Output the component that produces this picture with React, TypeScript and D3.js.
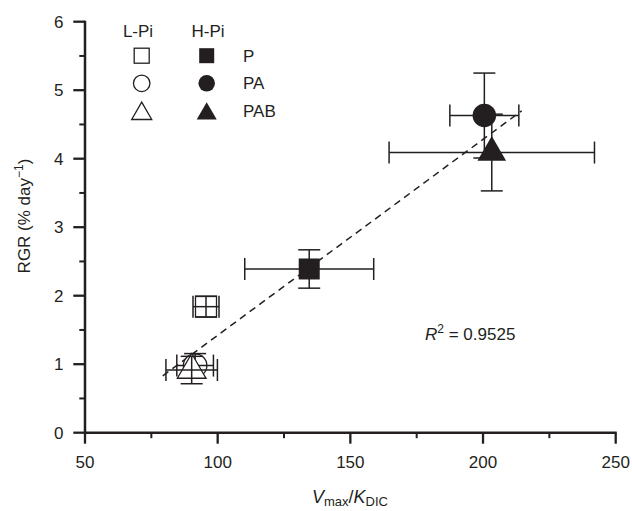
import React from "react";
import * as d3 from "d3";

const xDomain = [50, 250];
const yDomain = [0, 6];
const xTicks = [50, 100, 150, 200, 250];
const xMinorTicks = [75, 125, 175, 225];
const yTicks = [0, 1, 2, 3, 4, 5, 6];
const yMinorTicks = [0.5, 1.5, 2.5, 3.5, 4.5, 5.5];

const seriesNames = ["L-Pi P", "L-Pi PA", "L-Pi PAB", "H-Pi P", "H-Pi PA", "H-Pi PAB"];
const xVals = [95.6, 91.5, 90.2, 134.5, 200.5, 203.3];
const yVals = [1.84, 0.98, 0.915, 2.39, 4.63, 4.09];
const xErr = [4.9, 6.9, 9.7, 24.3, 13, 38.7];
const yErr = [0.15, 0.175, 0.2, 0.28, 0.62, 0.56];
const shapes = ["square", "circle", "triangle", "square", "circle", "triangle"];
const filled = [false, false, false, true, true, true];

const fitX = [79.3, 214.6];
const fitY = [0.83, 4.7];

const legendHeaders = ["L-Pi", "H-Pi"];
const legendLabels = ["P", "PA", "PAB"];
const legendShapes = ["square", "circle", "triangle"];

const INK = "#231f20";
const FONT = "'Liberation Sans', Arial, sans-serif";

function Marker({ shape, cx, cy, size, fill }: any) {
  const stroke = INK;
  const sw = fill ? 0 : 1.3;
  const f = fill ? INK : "white";
  if (shape === "square") {
    return <rect x={cx - size / 2} y={cy - size / 2} width={size} height={size} fill={f} stroke={stroke} strokeWidth={sw} />;
  }
  if (shape === "circle") {
    return <circle cx={cx} cy={cy} r={size / 2 + 0.5} fill={f} stroke={stroke} strokeWidth={sw} />;
  }
  const w = size * 1.32;
  const h = size * 1.14;
  const top = cy - (2 * h) / 3;
  const bot = cy + h / 3;
  const pts = `${cx},${top} ${cx - w / 2},${bot} ${cx + w / 2},${bot}`;
  return <polygon points={pts} fill={f} stroke={stroke} strokeWidth={sw} strokeLinejoin="miter" />;
}

export default function App() {
  const x = d3.scaleLinear().domain(xDomain).range([85, 615.7]);
  const y = d3.scaleLinear().domain(yDomain).range([432.7, 21.7]);
  const x0 = x(xDomain[0]);
  const y0 = y(yDomain[0]);
  const cap = 11;

  const fitLine = d3.line<number>()
    .x((_, i) => x(fitX[i]))
    .y((d) => y(d))(fitY);

  const legendCols = [141.7, 206.7];
  const legendRows = [55.7, 83.3, 110.7];

  return (
    <div style={{ position: "absolute", left: 0, top: 0 }}>
      <svg width={632} height={511} style={{ display: "block", fontFamily: FONT }}>
        <rect width={632} height={511} fill="white" />
        <path d={fitLine || ""} fill="none" stroke={INK} strokeWidth={1.5} strokeDasharray="7,5" />

        {seriesNames.map((name, i) => {
          const cx = x(xVals[i]);
          const cy = y(yVals[i]);
          const xl = x(xVals[i] - xErr[i]);
          const xr = x(xVals[i] + xErr[i]);
          const yt = y(yVals[i] + yErr[i]);
          const yb = y(yVals[i] - yErr[i]);
          const size = shapes[i] === "circle" ? 22.5 : shapes[i] === "square" ? 21 : 21.7;
          return (
            <g key={name}>
              <Marker shape={shapes[i]} cx={cx} cy={cy} size={size} fill={filled[i]} />
              <g stroke={INK} strokeWidth={1.5}>
                <line x1={xl} x2={xr} y1={cy} y2={cy} />
                <line x1={xl} x2={xl} y1={cy - cap} y2={cy + cap} />
                <line x1={xr} x2={xr} y1={cy - cap} y2={cy + cap} />
                <line x1={cx} x2={cx} y1={yt} y2={yb} />
                <line x1={cx - cap} x2={cx + cap} y1={yt} y2={yt} />
                <line x1={cx - cap} x2={cx + cap} y1={yb} y2={yb} />
              </g>
            </g>
          );
        })}

        <g stroke={INK}>
          <line x1={x0} x2={x(xDomain[1]) + 1} y1={y0} y2={y0} strokeWidth={2.5} />
          <line x1={x0} x2={x0} y1={y0 + 1} y2={y(yDomain[1]) - 1} strokeWidth={2.5} />
          {xTicks.map((t) => (
            <line key={"xt" + t} x1={x(t)} x2={x(t)} y1={y0} y2={y0 + 11} strokeWidth={2.3} />
          ))}
          {xMinorTicks.map((t) => (
            <line key={"xm" + t} x1={x(t)} x2={x(t)} y1={y0} y2={y0 + 5.5} strokeWidth={2} />
          ))}
          {yTicks.map((t) => (
            <line key={"yt" + t} x1={x0 - 11.7} x2={x0} y1={y(t)} y2={y(t)} strokeWidth={2.3} />
          ))}
          {yMinorTicks.map((t) => (
            <line key={"ym" + t} x1={x0 - 5.7} x2={x0} y1={y(t)} y2={y(t)} strokeWidth={2} />
          ))}
        </g>
        <g fill={INK} fontSize={17}>
          {xTicks.map((t) => (
            <text key={"xl" + t} x={x(t)} y={y0 + 35.5} textAnchor="middle">{t}</text>
          ))}
          {yTicks.map((t) => (
            <text key={"yl" + t} x={63.5} y={y(t) + 6} textAnchor="end">{t}</text>
          ))}
        </g>

        <text x={350} y={503} textAnchor="middle" fill={INK} fontSize={18}>
          <tspan fontStyle="italic">V</tspan>
          <tspan fontSize={13} dy={3}>max</tspan>
          <tspan dy={-3}>/</tspan>
          <tspan fontStyle="italic">K</tspan>
          <tspan fontSize={13} dy={3}>DIC</tspan>
        </text>
        <text transform="translate(30,216) rotate(-90)" textAnchor="middle" fill={INK} fontSize={17}>
          RGR (% day<tspan fontSize={12} dy={-7}>−1</tspan><tspan dy={7}>)</tspan>
        </text>

        <text x={425} y={340} fill={INK} fontSize={17}>
          <tspan fontStyle="italic">R</tspan>
          <tspan fontSize={12} dy={-7}>2</tspan>
          <tspan dy={7}> = 0.9525</tspan>
        </text>

        <g fill={INK} fontSize={17}>
          {legendHeaders.map((h, j) => (
            <text key={h} x={j === 0 ? 138 : 208} y={37} textAnchor="middle">{h}</text>
          ))}
          {legendLabels.map((l, r) => (
            <text key={l} x={243} y={legendRows[r] + 6} textAnchor="start">{l}</text>
          ))}
        </g>
        {legendShapes.map((s, r) =>
          [0, 1].map((c) => (
            <Marker
              key={s + c}
              shape={s}
              cx={legendCols[c]}
              cy={s === "triangle" ? legendRows[r] + 3 : legendRows[r]}
              size={s === "circle" ? 15.5 : s === "square" ? 15 : 15.2}
              fill={c === 1}
            />
          ))
        )}
      </svg>
    </div>
  );
}
